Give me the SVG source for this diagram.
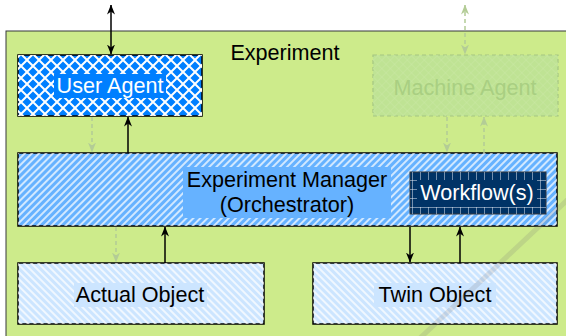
<svg xmlns="http://www.w3.org/2000/svg" width="566" height="336" viewBox="0 0 566 336">
<defs>
<style>
text{font-family:"Liberation Sans",Arial,sans-serif;font-size:21.6px;text-anchor:middle}
.box{stroke:#000;stroke-width:1.5}
.solid{stroke:#000;stroke-width:1.5;fill:none}
.faded{stroke:#b3cc96;stroke-width:1.5;fill:none;stroke-dasharray:4 3}
</style>
<pattern id="cross" width="12" height="12" patternUnits="userSpaceOnUse" x="3" y="0">
<path d="M0,0 L12,12 M12,0 L0,12" stroke="#fff" stroke-width="2"/>
</pattern>
<pattern id="hatchF" width="5" height="5" patternUnits="userSpaceOnUse" patternTransform="rotate(45)">
<line x1="1" y1="0" x2="1" y2="5" stroke="#fff" stroke-width="1.4"/>
</pattern>
<pattern id="hatchB" width="5" height="5" patternUnits="userSpaceOnUse" patternTransform="rotate(-45)">
<line x1="1" y1="0" x2="1" y2="5" stroke="#fff" stroke-width="1.4"/>
</pattern>
<pattern id="hatchM" width="6" height="6" patternUnits="userSpaceOnUse" patternTransform="rotate(45)">
<path d="M0,0 V6 M0,0 H6" stroke="#c9e7a3" stroke-width="1"/>
</pattern>
<pattern id="grid" width="8" height="9" patternUnits="userSpaceOnUse" x="412" y="171">
<path d="M0,0 V9 M0,0 H8" stroke="#e8eef5" stroke-width="1"/>
</pattern>
<marker id="ah" viewBox="0 0 10 8" refX="9.5" refY="4" markerWidth="10" markerHeight="8" markerUnits="userSpaceOnUse" orient="auto-start-reverse">
<path d="M0,0 L10,4 L0,8 L3,4 Z" fill="#000"/>
</marker>
<marker id="ahf" viewBox="0 0 10 8" refX="9.5" refY="4" markerWidth="10" markerHeight="8" markerUnits="userSpaceOnUse" orient="auto-start-reverse">
<path d="M0,0 L10,4 L0,8 L3,4 Z" fill="#b3cc96"/>
</marker>
</defs>

<g id="experiment">
<rect x="6" y="31" width="570" height="320" fill="#cdeb8b" stroke="#36393d" stroke-width="1"/>
<text x="285" y="60" fill="#000">Experiment</text>
</g>

<g id="user-agent">
<rect x="18" y="55" width="184" height="61" fill="#007fff" class="box" stroke-width="1"/>
<rect x="18" y="55" width="184" height="61" fill="url(#cross)"/>
<rect x="54" y="74" width="112" height="24" fill="#007fff"/>
<text x="110" y="93" fill="#fff">User Agent</text>
</g>

<g id="machine-agent">
<rect x="373" y="55" width="185" height="61" fill="#bfe394" stroke="#a5c682" stroke-width="1.2" stroke-dasharray="4 3"/>
<rect x="373" y="55" width="185" height="61" fill="url(#hatchM)"/>
<text x="465" y="95" fill="#a9cf82">Machine Agent</text>
</g>

<g id="experiment-manager">
<rect x="18" y="153" width="539" height="73" fill="#66b2ff" class="box"/>
<rect x="18" y="153" width="539" height="73" fill="url(#hatchF)"/>
<rect x="183" y="167" width="208" height="51" fill="#66b2ff"/>
<text x="287" y="187" fill="#000">Experiment Manager</text>
<text x="287" y="212" fill="#000">(Orchestrator)</text>
</g>

<g id="workflows">
<rect x="410" y="172" width="136" height="42" fill="#003366" stroke="#36393d" stroke-width="1"/>
<rect x="410" y="172" width="136" height="42" fill="url(#grid)"/>
<rect x="417" y="180" width="120" height="27" fill="#003366"/>
<text x="477" y="200" fill="#fff">Workflow(s)</text>
</g>

<g id="actual-object">
<rect x="18" y="263" width="246" height="61" fill="#cce5ff" class="box"/>
<rect x="18" y="263" width="246" height="61" fill="url(#hatchB)"/>
<rect x="74" y="283" width="133" height="24" fill="#cce5ff"/>
<text x="140" y="302" fill="#000">Actual Object</text>
</g>

<g id="twin-object">
<rect x="313" y="263" width="244" height="61" fill="#cce5ff" class="box"/>
<rect x="313" y="263" width="244" height="61" fill="url(#hatchB)"/>
<rect x="374" y="283" width="122" height="24" fill="#cce5ff"/>
<text x="435" y="302" fill="#000">Twin Object</text>
</g>

<g id="connectors">
<line x1="111" y1="5" x2="111" y2="54" class="solid" marker-start="url(#ah)" marker-end="url(#ah)"/>
<line x1="465" y1="5" x2="465" y2="54" class="faded" marker-start="url(#ahf)" marker-end="url(#ahf)"/>
<line x1="92" y1="117" x2="92" y2="152" class="faded" marker-end="url(#ahf)"/>
<line x1="128" y1="153" x2="128" y2="117" class="solid" marker-end="url(#ah)"/>
<line x1="447" y1="117" x2="447" y2="152" class="faded" marker-end="url(#ahf)"/>
<line x1="484" y1="153" x2="484" y2="117" class="faded" marker-end="url(#ahf)"/>
<line x1="116" y1="227" x2="116" y2="262" class="faded" marker-end="url(#ahf)"/>
<line x1="165" y1="263" x2="165" y2="227" class="solid" marker-end="url(#ah)"/>
<line x1="410" y1="227" x2="410" y2="262" class="solid" marker-end="url(#ah)"/>
<line x1="460" y1="263" x2="460" y2="227" class="solid" marker-end="url(#ah)"/>
</g>

<line x1="578" y1="190" x2="418" y2="340" stroke="#777" stroke-opacity="0.18" stroke-width="5" stroke-linecap="round"/>
</svg>
